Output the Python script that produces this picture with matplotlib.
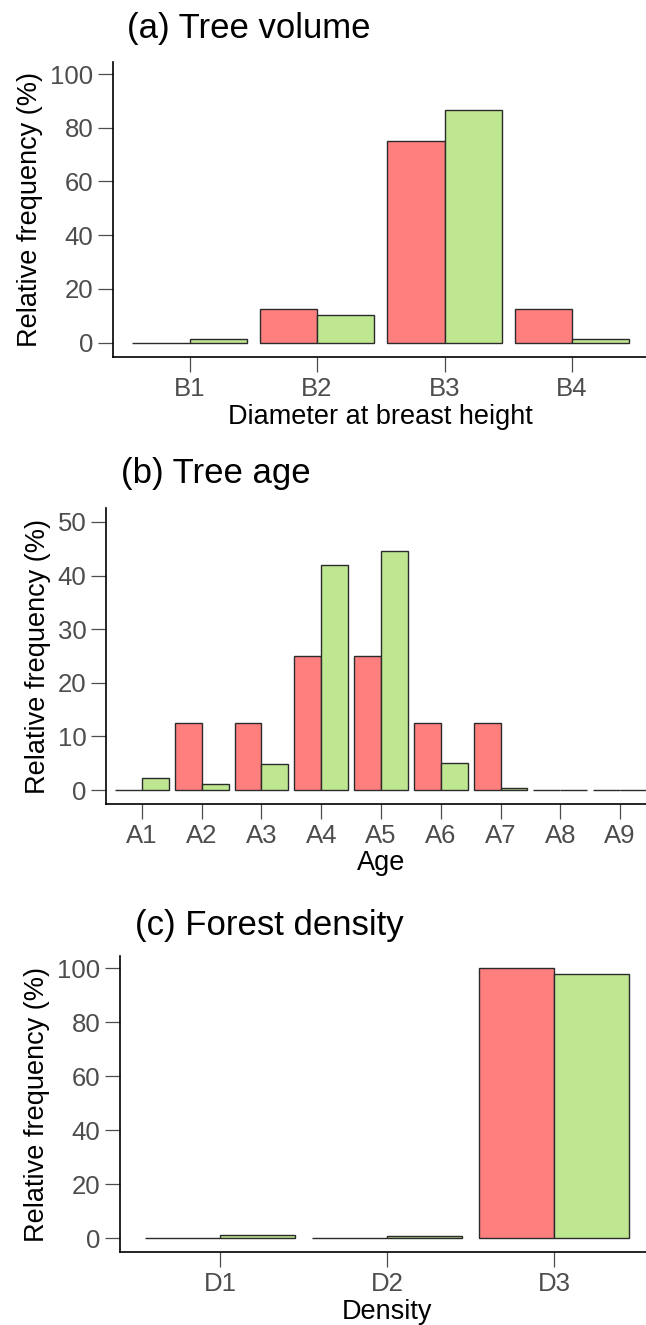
import numpy as np
import matplotlib
matplotlib.use("Agg")
import matplotlib.pyplot as plt

plt.rcParams['font.family'] = ['Liberation Sans', 'DejaVu Sans']

# Relative frequencies (%) per class, two groups
dbh_classes = ['B1', 'B2', 'B3', 'B4']
dbh_red = [0, 12.5, 75, 12.5]
dbh_green = [1.5, 10.2, 86.8, 1.5]

age_classes = ['A1', 'A2', 'A3', 'A4', 'A5', 'A6', 'A7', 'A8', 'A9']
age_red = [0, 12.5, 12.5, 25, 25, 12.5, 12.5, 0, 0]
age_green = [2.2, 1.1, 4.85, 41.9, 44.5, 5.1, 0.4, 0.1, 0]

density_classes = ['D1', 'D2', 'D3']
density_red = [0, 0, 100]
density_green = [1.2, 1.0, 97.9]

RED = '#FF7F7F'
GREEN = '#BFE690'
EDGE = '#2B2B2B'
TICK_GREY = '#4D4D4D'

W, H = 646, 1325
fig = plt.figure(figsize=(W / 100, H / 100), dpi=100)


def px_axes(left, right, top, bottom):
    # axes box given in pixels (may run past the right edge)
    return fig.add_axes([left / W, 1 - bottom / H, (right - left) / W, (bottom - top) / H])


def draw_panel(ax, cats, red, green, ylim, yticks, xlabel, ylabel_px, xlabel_px):
    x = np.arange(1, len(cats) + 1)
    bw = 0.45
    ax.bar(x - bw / 2, red, width=bw, color=RED, edgecolor=EDGE, linewidth=1.0)
    ax.bar(x + bw / 2, green, width=bw, color=GREEN, edgecolor=EDGE, linewidth=1.0)
    ax.set_xlim(0.4, len(cats) + 0.6)
    ax.set_ylim(*ylim)
    ax.set_xticks(x)
    ax.set_xticklabels(cats)
    ax.set_yticks(yticks)
    for s in ['top', 'right']:
        ax.spines[s].set_visible(False)
    for s in ['left', 'bottom']:
        ax.spines[s].set_linewidth(1.2)
        ax.spines[s].set_color('black')
    ax.tick_params(axis='y', length=10.5, width=0.9, color=TICK_GREY, labelcolor=TICK_GREY,
                   labelsize=18.5, pad=3.5)
    ax.tick_params(axis='x', length=10.5, width=0.9, color=TICK_GREY, labelcolor=TICK_GREY,
                   labelsize=18.5, pad=4)
    bb = ax.get_position()
    wpx, hpx = bb.width * W, bb.height * H
    ax.set_ylabel('Relative frequency (%)', fontsize=19.5, va='center')
    ax.yaxis.set_label_coords(ylabel_px / wpx, 0.5)
    ax.set_xlabel(xlabel, fontsize=19.5, va='baseline')
    ax.xaxis.set_label_coords(0.5, xlabel_px / hpx)


# (a) tree volume
ax1 = px_axes(113, 648.5, 62, 356.5)
draw_panel(ax1, dbh_classes, dbh_red, dbh_green, (-5.2, 104.5), [0, 20, 40, 60, 80, 100],
           'Diameter at breast height', 30 - 113, -67)
fig.text(127 / W, 1 - 38 / H, '(a) Tree volume', fontsize=25, ha='left', va='baseline')

# (b) tree age
ax2 = px_axes(106, 656, 508, 804)
draw_panel(ax2, age_classes, age_red, age_green, (-2.6, 52.6), [0, 10, 20, 30, 40, 50],
           'Age', 38 - 106, -66)
fig.text(121 / W, 1 - 483 / H, '(b) Tree age', fontsize=25, ha='left', va='baseline')

# (c) forest density
ax3 = px_axes(120, 654, 956, 1252)
draw_panel(ax3, density_classes, density_red, density_green, (-5.0, 104.6), [0, 20, 40, 60, 80, 100],
           'Density', 37 - 120, -67)
fig.text(135 / W, 1 - 935 / H, '(c) Forest density', fontsize=25, ha='left', va='baseline')

fig.savefig('out.png', dpi=100)
